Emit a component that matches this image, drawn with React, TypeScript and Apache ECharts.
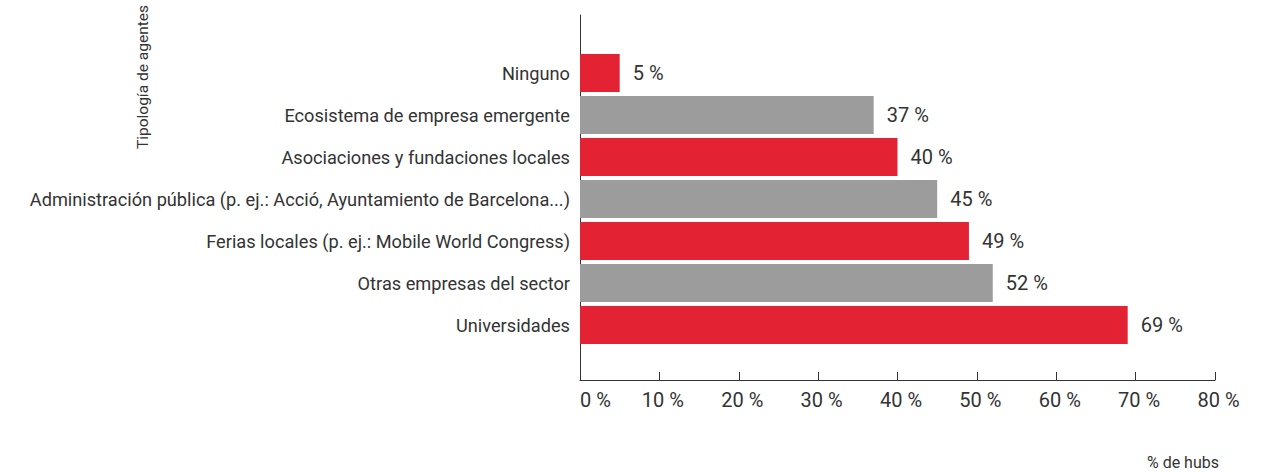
import React, { useEffect, useRef } from "react";
import * as echarts from "echarts";

const categories: string[] = [
  "Ninguno",
  "Ecosistema de empresa emergente",
  "Asociaciones y fundaciones locales",
  "Administración pública (p. ej.: Acció, Ayuntamiento de Barcelona...)",
  "Ferias locales (p. ej.: Mobile World Congress)",
  "Otras empresas del sector",
  "Universidades",
];
const values: number[] = [5, 37, 40, 45, 49, 52, 69];
const barColors: string[] = ["#E32334", "#9C9C9C", "#E32334", "#9C9C9C", "#E32334", "#9C9C9C", "#E32334"];
const xTicks: number[] = [0, 10, 20, 30, 40, 50, 60, 70, 80];
const yAxisTitle = "Tipología de agentes";
const xAxisTitle = "% de hubs";

const FONT = "Roboto, 'Noto Sans', sans-serif";
const TEXT = "#333333";

export default function App() {
  const ref = useRef<HTMLDivElement>(null);
  useEffect(() => {
    document.body.style.margin = "0";
    if (!ref.current) return;
    const chart = echarts.init(ref.current, undefined, { renderer: "svg" });
    const xMin = xTicks[0];
    const xMax = xTicks[xTicks.length - 1];
    const step = xTicks[1] - xTicks[0];
    chart.setOption({
      animation: false,
      textStyle: { fontFamily: FONT },
      grid: [
        { left: 580, top: 52, width: 635, height: 294, containLabel: false },
        { left: 580, top: 15, width: 635, height: 365, containLabel: false },
      ],
      xAxis: [
        {
          gridIndex: 0,
          type: "value",
          min: xMin,
          max: xMax,
          interval: step,
          show: false,
        },
        {
          gridIndex: 1,
          type: "value",
          min: xMin,
          max: xMax,
          interval: step,
          axisLine: { show: true, lineStyle: { color: "#333333", width: 1 } },
          axisTick: { show: true, inside: true, length: 8, lineStyle: { color: "#333333", width: 1 } },
          splitLine: { show: false },
          axisLabel: {
            color: TEXT,
            fontSize: 20,
            fontFamily: FONT,
            margin: 10,
            alignMinLabel: "left",
            formatter: (v: number) => (v === xMin ? `${v} %` : `{s|${v} %}`),
            rich: {
              s: { color: TEXT, fontSize: 20, fontFamily: FONT, padding: [0, 0, 0, 7] },
            },
          },
        },
      ],
      yAxis: [
        {
          gridIndex: 0,
          type: "category",
          data: categories,
          inverse: true,
          axisLine: { show: false },
          axisTick: { show: false },
          axisLabel: { color: TEXT, fontSize: 18.2, fontFamily: FONT, margin: 10 },
        },
        {
          gridIndex: 1,
          type: "value",
          min: 0,
          max: 1,
          axisLine: { show: true, lineStyle: { color: "#333333", width: 1 } },
          axisTick: { show: false },
          axisLabel: { show: false },
          splitLine: { show: false },
        },
      ],
      series: [
        {
          type: "bar",
          xAxisIndex: 0,
          yAxisIndex: 0,
          barWidth: 38,
          data: values.map((v, i) => ({ value: v, itemStyle: { color: barColors[i] } })),
          label: {
            show: true,
            position: "right",
            distance: 13,
            color: TEXT,
            fontSize: 20,
            fontFamily: FONT,
            formatter: (p: any) => `${p.value} %`,
          },
        },
      ],
      graphic: [
        {
          type: "text",
          x: 143,
          y: 5,
          rotation: Math.PI / 2,
          style: {
            text: yAxisTitle,
            fill: TEXT,
            fontSize: 15.5,
            fontFamily: FONT,
            align: "right",
            verticalAlign: "middle",
          },
        },
        {
          type: "text",
          x: 1219,
          y: 462,
          style: {
            text: xAxisTitle,
            fill: TEXT,
            fontSize: 16,
            fontFamily: FONT,
            align: "right",
            verticalAlign: "middle",
          },
        },
      ],
    });
    return () => chart.dispose();
  }, []);
  return <div ref={ref} style={{ width: 1277, height: 472 }} />;
}
